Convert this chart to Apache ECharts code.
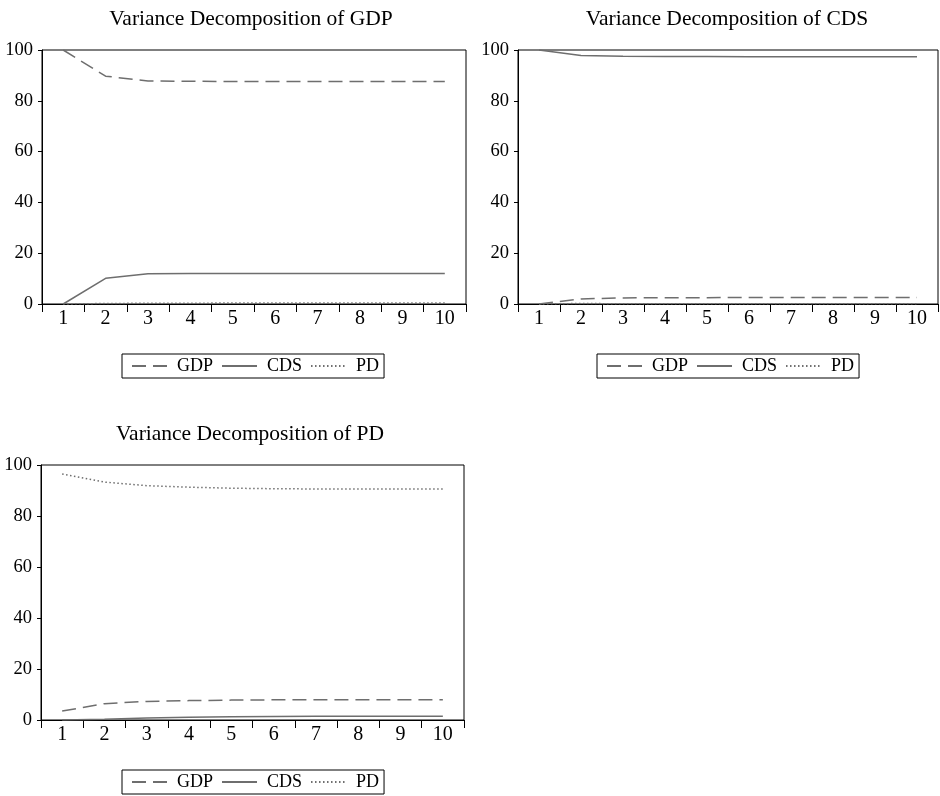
<!DOCTYPE html>
<html style="height: 100%">
<head>
    <meta charset="utf-8">
    <title>Variance Decomposition</title>
    <script type="text/javascript" src="https://cdn.jsdelivr.net/npm/echarts@6/dist/echarts.min.js"></script>
</head>
<body style="height: 100%; margin: 0; padding: 0; background: #fff;">
<div id="container" style="width: 940px; height: 796px;"></div>
<script type="text/javascript">
    // 期数
    var periods = ['1', '2', '3', '4', '5', '6', '7', '8', '9', '10'];
    var yTicks = [0, 20, 40, 60, 80, 100];

    // Variance Decomposition of GDP
    var gdpPanelGDP = [100, 89.7, 87.8, 87.7, 87.6, 87.6, 87.6, 87.6, 87.6, 87.6];
    var gdpPanelCDS = [0, 10.1, 11.9, 12.0, 12.0, 12.0, 12.0, 12.0, 12.0, 12.0];
    var gdpPanelPD = [0, 0.2, 0.3, 0.3, 0.4, 0.4, 0.4, 0.4, 0.4, 0.4];

    // Variance Decomposition of CDS
    var cdsPanelGDP = [0, 2.0, 2.4, 2.5, 2.5, 2.6, 2.6, 2.6, 2.6, 2.6];
    var cdsPanelCDS = [100, 97.8, 97.5, 97.4, 97.4, 97.3, 97.3, 97.3, 97.3, 97.3];
    var cdsPanelPD = [0, 0.2, 0.1, 0.1, 0.1, 0.1, 0.1, 0.1, 0.1, 0.1];

    // Variance Decomposition of PD
    var pdPanelGDP = [3.5, 6.4, 7.3, 7.6, 7.8, 7.9, 7.9, 7.9, 7.9, 7.9];
    var pdPanelCDS = [0, 0.3, 0.8, 1.1, 1.3, 1.4, 1.5, 1.5, 1.5, 1.5];
    var pdPanelPD = [96.5, 93.3, 91.9, 91.3, 90.9, 90.7, 90.6, 90.6, 90.6, 90.6];

    var font = "'Liberation Serif', 'Times New Roman', serif";
    var lineColor = '#6e6e6e';

    var panels = [
        {title: 'Variance Decomposition of GDP', data: [gdpPanelGDP, gdpPanelCDS, gdpPanelPD]},
        {title: 'Variance Decomposition of CDS', data: [cdsPanelGDP, cdsPanelCDS, cdsPanelPD]},
        {title: 'Variance Decomposition of PD', data: [pdPanelGDP, pdPanelCDS, pdPanelPD]}
    ];
    // 面板位置
    var grids = [
        {left: 42, top: 50, width: 424, height: 254},
        {left: 518, top: 50, width: 420, height: 254},
        {left: 41, top: 465, width: 423, height: 255}
    ];
    var titlePos = [{x: 246, y: 3}, {x: 722, y: 3}, {x: 245, y: 418}];
    var legendPos = [{x: 122, y: 354}, {x: 597, y: 354}, {x: 122, y: 770}];

    var names = ['GDP', 'CDS', 'PD'];
    var lineTypes = [[14, 7], 'solid', [1.5, 2.5]];

    var option = {
        animation: false,
        backgroundColor: '#fff',
        title: [],
        legend: [],
        grid: [],
        xAxis: [],
        yAxis: [],
        series: []
    };

    for (var i = 0; i < panels.length; i++) {
        option.title.push({
            text: panels[i].title,
            left: titlePos[i].x,
            top: titlePos[i].y,
            textAlign: 'center',
            textStyle: {fontFamily: font, fontSize: 21.5, fontWeight: 'normal', color: '#000'}
        });
        option.legend.push({
            data: names,
            left: legendPos[i].x,
            top: legendPos[i].y,
            orient: 'horizontal',
            itemWidth: 35,
            itemHeight: 10,
            itemGap: 8,
            padding: [3, 5, 3, 9],
            borderColor: '#000',
            borderWidth: 1,
            selectedMode: false,
            itemStyle: {opacity: 0},
            textStyle: {fontFamily: font, fontSize: 18, color: '#000', padding: [0, 0, 0, 5]}
        });
        option.grid.push({
            left: grids[i].left,
            top: grids[i].top,
            width: grids[i].width,
            height: grids[i].height,
            show: true,
            borderColor: '#000',
            borderWidth: 1
        });
        option.xAxis.push({
            type: 'category',
            gridIndex: i,
            data: periods,
            boundaryGap: true,
            axisLine: {lineStyle: {color: '#000', width: 1}},
            axisTick: {show: true, length: 8, lineStyle: {color: '#000'}},
            axisLabel: {fontFamily: font, fontSize: 20, color: '#000', margin: 5},
            splitLine: {show: false}
        });
        option.yAxis.push({
            type: 'value',
            gridIndex: i,
            min: yTicks[0],
            max: yTicks[yTicks.length - 1],
            interval: 20,
            axisLine: {show: true, lineStyle: {color: '#000', width: 1}},
            axisTick: {show: true, length: 4, lineStyle: {color: '#000'}},
            axisLabel: {fontFamily: font, fontSize: 18.5, color: '#000', margin: 9},
            splitLine: {show: false}
        });
        for (var j = 0; j < names.length; j++) {
            option.series.push({
                name: names[j],
                type: 'line',
                xAxisIndex: i,
                yAxisIndex: i,
                data: panels[i].data[j],
                symbol: 'none',
                lineStyle: {color: lineColor, width: 1.5, type: lineTypes[j]},
                itemStyle: {color: lineColor}
            });
        }
    }

    var myChart = echarts.init(document.getElementById('container'));
    myChart.setOption(option);
</script>
</body>
</html>
